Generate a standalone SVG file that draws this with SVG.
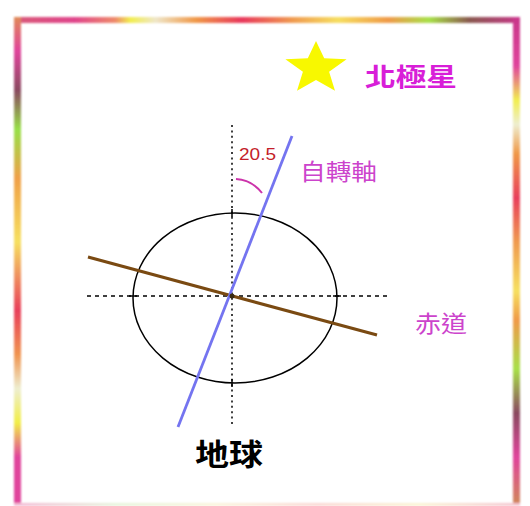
<svg xmlns="http://www.w3.org/2000/svg" width="530" height="506" viewBox="0 0 530 506">
  <defs>
    <style>
      .cjk { font-family: "Noto Sans CJK TC", "Noto Sans CJK SC", sans-serif; }
      .guide { stroke: #000; fill: none; stroke-width: 1.5; }
      .tick { stroke: #000; stroke-width: 1.5; }
    </style>
    <filter id="soft" x="-5%" y="-5%" width="110%" height="110%">
      <feGaussianBlur stdDeviation="0.9"/>
    </filter>
    <linearGradient id="gTop" x1="14" y1="0" x2="520" y2="0" gradientUnits="userSpaceOnUse">
      <stop offset="0" stop-color="#d85a78"/>
      <stop offset="0.12" stop-color="#e0458c"/>
      <stop offset="0.2" stop-color="#ee8a6a"/>
      <stop offset="0.23" stop-color="#f2ee50"/>
      <stop offset="0.28" stop-color="#efe6c8"/>
      <stop offset="0.36" stop-color="#f09848"/>
      <stop offset="0.45" stop-color="#e8385c"/>
      <stop offset="0.55" stop-color="#f09a50"/>
      <stop offset="0.64" stop-color="#f6de60"/>
      <stop offset="0.74" stop-color="#f09a48"/>
      <stop offset="0.82" stop-color="#a8e048"/>
      <stop offset="0.9" stop-color="#8a5a50"/>
      <stop offset="1" stop-color="#c8388a"/>
    </linearGradient>
    <linearGradient id="gLeft" x1="0" y1="17" x2="0" y2="506" gradientUnits="userSpaceOnUse">
      <stop offset="0" stop-color="#e08a58"/>
      <stop offset="0.07" stop-color="#e0449c"/>
      <stop offset="0.15" stop-color="#8a4a60"/>
      <stop offset="0.23" stop-color="#98e048"/>
      <stop offset="0.33" stop-color="#f0a048"/>
      <stop offset="0.46" stop-color="#f6e060"/>
      <stop offset="0.6" stop-color="#e8405c"/>
      <stop offset="0.69" stop-color="#f09450"/>
      <stop offset="0.76" stop-color="#eeeed0"/>
      <stop offset="0.83" stop-color="#f2ee48"/>
      <stop offset="0.9" stop-color="#e0449c"/>
      <stop offset="1" stop-color="#e0449c"/>
    </linearGradient>
    <linearGradient id="gRight" x1="0" y1="17" x2="0" y2="506" gradientUnits="userSpaceOnUse">
      <stop offset="0" stop-color="#c8388a"/>
      <stop offset="0.1" stop-color="#e0449c"/>
      <stop offset="0.17" stop-color="#f2ee50"/>
      <stop offset="0.22" stop-color="#eeeed0"/>
      <stop offset="0.28" stop-color="#f09848"/>
      <stop offset="0.37" stop-color="#e8405c"/>
      <stop offset="0.46" stop-color="#f09a50"/>
      <stop offset="0.56" stop-color="#f6e060"/>
      <stop offset="0.62" stop-color="#f09a48"/>
      <stop offset="0.72" stop-color="#a8e048"/>
      <stop offset="0.81" stop-color="#8a4a60"/>
      <stop offset="0.9" stop-color="#e0449c"/>
      <stop offset="1" stop-color="#d08a58"/>
    </linearGradient>
    <linearGradient id="gBottom" x1="14" y1="0" x2="520" y2="0" gradientUnits="userSpaceOnUse">
      <stop offset="0" stop-color="#f4b8d4"/>
      <stop offset="0.2" stop-color="#e6f4dc"/>
      <stop offset="0.4" stop-color="#faf4dc"/>
      <stop offset="0.6" stop-color="#fad8d4"/>
      <stop offset="0.8" stop-color="#faf4d4"/>
      <stop offset="1" stop-color="#f4c4d0"/>
    </linearGradient>
  </defs>

  <rect width="530" height="506" fill="#ffffff"/>

  <g id="frame" filter="url(#soft)">
    <rect x="14" y="17" width="506" height="6" fill="url(#gTop)"/>
    <rect x="14" y="17" width="7" height="489" fill="url(#gLeft)"/>
    <rect x="513" y="17" width="7" height="489" fill="url(#gRight)"/>
    <rect x="14" y="503" width="506" height="3" fill="url(#gBottom)"/>
  </g>

  <g id="guides">
    <line class="guide" x1="232" y1="125" x2="232" y2="426" stroke-width="2" stroke-dasharray="2 3.4"/>
    <line class="guide" x1="87" y1="296" x2="388" y2="296" stroke-width="1.4" stroke-dasharray="4 4"/>
  </g>

  <g id="earth">
    <ellipse cx="235" cy="298" rx="102" ry="85" fill="none" stroke="#000" stroke-width="1.5"/>
    <line class="tick" x1="232" y1="209" x2="232" y2="217"/>
    <line class="tick" x1="232" y1="379" x2="232" y2="387"/>
    <line class="tick" x1="129" y1="296" x2="137" y2="296"/>
    <line class="tick" x1="333" y1="296" x2="341" y2="296"/>
  </g>

  <g id="connectors">
    <line id="equator-line" x1="88" y1="257" x2="377" y2="335" stroke="#7a4a12" stroke-width="3.2"/>
    <line id="axis-line" x1="292" y1="136" x2="178" y2="427" stroke="#7474f0" stroke-width="2.8"/>
    <circle cx="232" cy="296" r="2.5" fill="#3a2a10"/>
    <path id="angle-arc" d="M236,179 Q252,180 262,193" fill="none" stroke="#cc33aa" stroke-width="2"/>
  </g>

  <g id="angle-label">
    <text x="239" y="160" font-family="Liberation Sans, sans-serif" font-size="16" fill="#c41e2a" textLength="37" lengthAdjust="spacingAndGlyphs">20.5</text>
  </g>

  <g id="polaris">
    <polygon points="316,41 307.8,58.3 285.4,59.3 302.9,71.7 297,90.7 316,80 335,90.7 329.1,71.7 346.6,59.3 324.2,58.3" fill="#f8f800"/>
    <text class="cjk" x="365" y="86" font-size="25" font-weight="bold" fill="#d81ed8" textLength="92" lengthAdjust="spacingAndGlyphs">北極星</text>
  </g>

  <g id="axis-label">
    <text class="cjk" x="300" y="180" font-size="23" fill="#cc44cc" textLength="77" lengthAdjust="spacingAndGlyphs">自轉軸</text>
  </g>

  <g id="equator-label">
    <text class="cjk" x="415" y="332" font-size="23" fill="#cc44cc" textLength="52" lengthAdjust="spacingAndGlyphs">赤道</text>
  </g>

  <g id="earth-label">
    <text class="cjk" x="195" y="465" font-size="30" font-weight="bold" fill="#000" textLength="68" lengthAdjust="spacingAndGlyphs">地球</text>
  </g>
</svg>
